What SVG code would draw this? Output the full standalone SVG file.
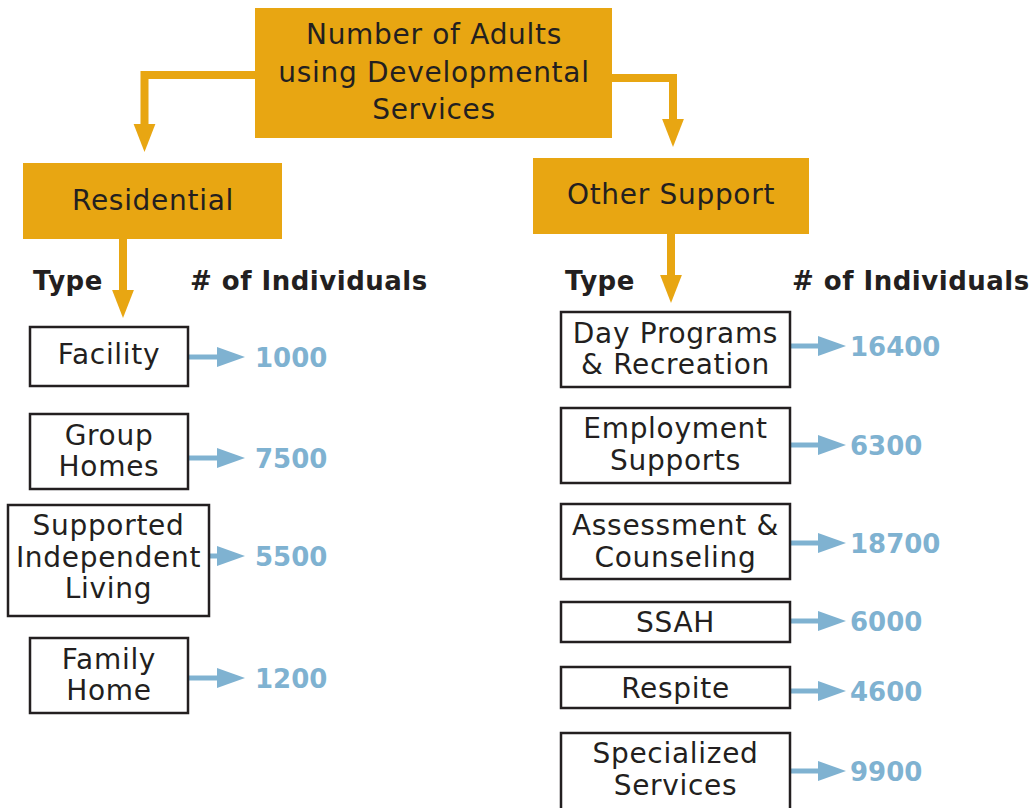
<svg xmlns="http://www.w3.org/2000/svg" width="1034" height="808" viewBox="0 0 1034 808">
<defs>
<style>
.gold{fill:#E8A612}
.box{fill:#fff;stroke:#231F20;stroke-width:2.5}
.t{font-family:"DejaVu Sans","Liberation Sans",sans-serif;font-size:28px;letter-spacing:0.7px;fill:#231F20;text-anchor:middle}
.h{font-family:"DejaVu Sans","Liberation Sans",sans-serif;font-size:26px;letter-spacing:0.5px;font-weight:bold;fill:#231F20}
.n{font-family:"DejaVu Sans","Liberation Sans",sans-serif;font-size:26px;font-weight:bold;fill:#7FB2D1}
.gline{fill:none;stroke:#E8A612;stroke-width:8}
.bline{fill:none;stroke:#7FB2D1;stroke-width:5}
</style>
<marker id="ga" markerUnits="userSpaceOnUse" markerWidth="28" markerHeight="36" refX="0" refY="14" orient="auto" viewBox="0 0 36 28">
<path d="M0,0 L36,14 L0,28 Z" fill="#E8A612"/>
</marker>
<marker id="ba" markerUnits="userSpaceOnUse" markerWidth="28" markerHeight="20" refX="0" refY="10" orient="auto" viewBox="0 0 28 20">
<path d="M0,0 L28,10 L0,20 Z" fill="#7FB2D1"/>
</marker>
</defs>
<rect width="1034" height="808" fill="#fff"/>
<g id="connectors">
<path class="gline" d="M255,75 L144.5,75 L144.5,124" marker-end="url(#ga)"/>
<path class="gline" d="M612,78 L673,78 L673,119" marker-end="url(#ga)"/>
<path class="gline" d="M123,239 L123,290" marker-end="url(#ga)"/>
<path class="gline" d="M671,234 L671,275" marker-end="url(#ga)"/>
<path class="bline" d="M188,357 L217,357" marker-end="url(#ba)"/>
<path class="bline" d="M188,458 L217,458" marker-end="url(#ba)"/>
<path class="bline" d="M209,556 L217,556" marker-end="url(#ba)"/>
<path class="bline" d="M188,678 L217,678" marker-end="url(#ba)"/>
<path class="bline" d="M790,346 L818,346" marker-end="url(#ba)"/>
<path class="bline" d="M790,445 L818,445" marker-end="url(#ba)"/>
<path class="bline" d="M790,543 L818,543" marker-end="url(#ba)"/>
<path class="bline" d="M790,621 L818,621" marker-end="url(#ba)"/>
<path class="bline" d="M790,691 L818,691" marker-end="url(#ba)"/>
<path class="bline" d="M790,771 L818,771" marker-end="url(#ba)"/>
</g>
<g id="root">
<rect class="gold" x="255" y="8" width="357" height="130"/>
<text class="t" x="434" y="44">Number of Adults</text>
<text class="t" x="434" y="82">using Developmental</text>
<text class="t" x="434" y="119">Services</text>
</g>
<g id="residential">
<rect class="gold" x="23" y="163" width="259" height="76"/>
<text class="t" x="153" y="210">Residential</text>
</g>
<g id="other-support">
<rect class="gold" x="533" y="158" width="276" height="76"/>
<text class="t" x="671" y="204">Other Support</text>
</g>
<g id="headers">
<text class="h" x="33" y="290">Type</text>
<text class="h" x="190" y="290"># of Individuals</text>
<text class="h" x="565" y="290">Type</text>
<text class="h" x="792" y="290"># of Individuals</text>
</g>
<g id="facility">
<rect class="box" x="30" y="327" width="158" height="59"/>
<text class="t" x="109" y="364">Facility</text>
<text class="n" x="255" y="367">1000</text>
</g>
<g id="group-homes">
<rect class="box" x="30" y="414" width="158" height="75"/>
<text class="t" x="109" y="445">Group</text>
<text class="t" x="109" y="476">Homes</text>
<text class="n" x="255" y="468">7500</text>
</g>
<g id="supported-independent-living">
<rect class="box" x="8" y="505" width="201" height="111"/>
<text class="t" x="108.5" y="535">Supported</text>
<text class="t" x="108.5" y="567">Independent</text>
<text class="t" x="108.5" y="598">Living</text>
<text class="n" x="255" y="566">5500</text>
</g>
<g id="family-home">
<rect class="box" x="30" y="638" width="158" height="75"/>
<text class="t" x="109" y="669">Family</text>
<text class="t" x="109" y="700">Home</text>
<text class="n" x="255" y="688">1200</text>
</g>
<g id="day-programs">
<rect class="box" x="561" y="312" width="229" height="75"/>
<text class="t" x="675.5" y="343">Day Programs</text>
<text class="t" x="675.5" y="374">&amp; Recreation</text>
<text class="n" x="850" y="356">16400</text>
</g>
<g id="employment-supports">
<rect class="box" x="561" y="408" width="229" height="75"/>
<text class="t" x="675.5" y="438">Employment</text>
<text class="t" x="675.5" y="470">Supports</text>
<text class="n" x="850" y="455">6300</text>
</g>
<g id="assessment-counseling">
<rect class="box" x="561" y="504" width="229" height="75"/>
<text class="t" x="675.5" y="535">Assessment &amp;</text>
<text class="t" x="675.5" y="567">Counseling</text>
<text class="n" x="850" y="553">18700</text>
</g>
<g id="ssah">
<rect class="box" x="561" y="602" width="229" height="40"/>
<text class="t" x="675.5" y="632">SSAH</text>
<text class="n" x="850" y="631">6000</text>
</g>
<g id="respite">
<rect class="box" x="561" y="667" width="229" height="41"/>
<text class="t" x="675.5" y="698">Respite</text>
<text class="n" x="850" y="701">4600</text>
</g>
<g id="specialized-services">
<rect class="box" x="561" y="733" width="229" height="80"/>
<text class="t" x="675.5" y="763">Specialized</text>
<text class="t" x="675.5" y="795">Services</text>
<text class="n" x="850" y="781">9900</text>
</g>
</svg>
